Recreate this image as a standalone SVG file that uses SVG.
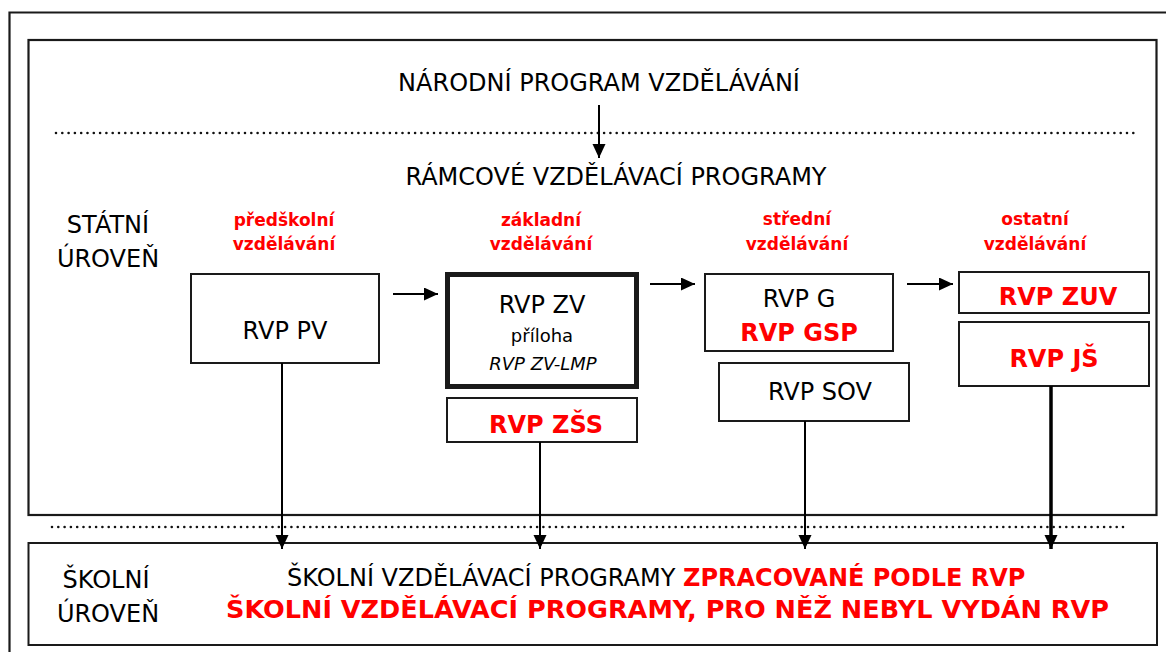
<svg xmlns="http://www.w3.org/2000/svg" width="1166" height="652" viewBox="0 0 1166 652">
<style>
  text { font-family: "DejaVu Sans", "Liberation Sans", sans-serif; fill: #000; }
  .t24 { font-size: 24px; }
  .c { text-anchor: middle; }
  .red { fill: #ff0000; font-weight: bold; }
  .lbl { font-size: 17px; }
  .box { fill: #fff; stroke: #1a1a1a; stroke-width: 2; }
  .frame { fill: none; stroke: #1a1a1a; stroke-width: 2.2; }
  .dots { fill: none; stroke: #111; stroke-width: 2.6; stroke-linecap: round; stroke-dasharray: 0 6.3; }
  .conn { fill: none; stroke: #000; stroke-width: 2; }
</style>
<defs>
  <marker id="ah" markerUnits="userSpaceOnUse" markerWidth="15" markerHeight="14" refX="14" refY="6.5" orient="auto">
    <path d="M0,0 L14,6.5 L0,13 z" fill="#000"/>
  </marker>
</defs>
<rect width="1166" height="652" fill="#fff"/>
<g id="frames">
  <path class="frame" d="M9.5,652 V12.5 H1166"/>
  <rect class="frame" x="28.5" y="40" width="1128" height="475"/>
  <path class="dots" d="M56,133 H1134"/>
  <path class="dots" d="M52,527 H1129"/>
</g>
<g id="national">
  <text class="t24 c" x="599" y="91">NÁRODNÍ PROGRAM VZDĚLÁVÁNÍ</text>
</g>
<g id="framework">
  <text class="t24 c" x="616" y="185">RÁMCOVÉ VZDĚLÁVACÍ PROGRAMY</text>
</g>
<g id="state-level">
  <text class="t24 c" x="108" y="233">STÁTNÍ</text>
  <text class="t24 c" x="108" y="267">ÚROVEŇ</text>
</g>
<g id="categories">
  <text class="lbl red c" x="284" y="226">předškolní</text>
  <text class="lbl red c" x="284" y="250">vzdělávání</text>
  <text class="lbl red c" x="541" y="226">základní</text>
  <text class="lbl red c" x="541" y="250">vzdělávání</text>
  <text class="lbl red c" x="797" y="225">střední</text>
  <text class="lbl red c" x="797" y="250">vzdělávání</text>
  <text class="lbl red c" x="1035" y="225">ostatní</text>
  <text class="lbl red c" x="1035" y="250">vzdělávání</text>
</g>
<g id="rvp-pv">
  <rect class="box" x="191" y="274" width="188" height="89"/>
  <text class="t24 c" x="285" y="339">RVP PV</text>
</g>
<g id="rvp-zv">
  <rect class="box" x="447.5" y="274.5" width="189" height="112" style="stroke-width:5"/>
  <text class="t24 c" x="542" y="313">RVP ZV</text>
  <text class="c" x="542" y="342" style="font-size:18px">příloha</text>
  <text class="c" x="543" y="370" style="font-size:18px;font-style:italic">RVP ZV-LMP</text>
</g>
<g id="rvp-zss">
  <rect class="box" x="447" y="398" width="190" height="44"/>
  <text class="t24 red c" x="546" y="433">RVP ZŠS</text>
</g>
<g id="rvp-g">
  <rect class="box" x="705" y="274" width="188" height="77"/>
  <text class="t24 c" x="799" y="307">RVP G</text>
  <text class="t24 red c" x="799" y="341">RVP GSP</text>
</g>
<g id="rvp-sov">
  <rect class="box" x="719" y="363" width="190" height="58"/>
  <text class="t24 c" x="820" y="400">RVP SOV</text>
</g>
<g id="rvp-zuv">
  <rect class="box" x="959" y="272" width="190" height="41"/>
  <text class="t24 red c" x="1058" y="305">RVP ZUV</text>
</g>
<g id="rvp-js">
  <rect class="box" x="959" y="322" width="190" height="64"/>
  <text class="t24 red c" x="1054" y="367">RVP JŠ</text>
</g>
<g id="school-level">
  <rect class="box" x="28.5" y="543" width="1128.5" height="102"/>
  <text class="t24 c" x="106" y="588">ŠKOLNÍ</text>
  <text class="t24 c" x="108" y="622">ÚROVEŇ</text>
  <text class="t24" x="287" y="586">ŠKOLNÍ VZDĚLÁVACÍ PROGRAMY <tspan class="red">ZPRACOVANÉ PODLE RVP</tspan></text>
  <text class="t24 red" x="226" y="618" textLength="883" lengthAdjust="spacingAndGlyphs">ŠKOLNÍ VZDĚLÁVACÍ PROGRAMY, PRO NĚŽ NEBYL VYDÁN RVP</text>
</g>
<g id="connectors">
  <line class="conn" x1="599" y1="105" x2="599" y2="158" marker-end="url(#ah)"/>
  <line class="conn" x1="393" y1="294" x2="438" y2="294" marker-end="url(#ah)"/>
  <line class="conn" x1="650" y1="284" x2="695" y2="284" marker-end="url(#ah)"/>
  <line class="conn" x1="907" y1="284" x2="953" y2="284" marker-end="url(#ah)"/>
  <line class="conn" x1="282" y1="363" x2="282" y2="549" marker-end="url(#ah)"/>
  <line class="conn" x1="540" y1="442" x2="540" y2="549" marker-end="url(#ah)"/>
  <line class="conn" x1="805" y1="421" x2="805" y2="549" marker-end="url(#ah)"/>
  <line class="conn" x1="1051" y1="386" x2="1051" y2="549" marker-end="url(#ah)" style="stroke-width:3.5"/>
</g>
</svg>
